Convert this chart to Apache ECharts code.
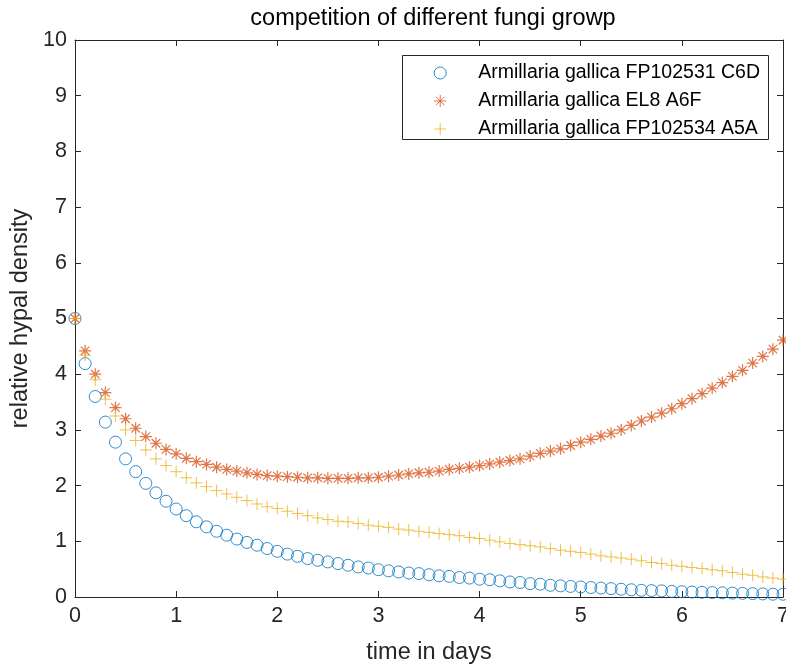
<!DOCTYPE html>
<html>
<head>
<meta charset="utf-8">
<script src="https://cdn.jsdelivr.net/npm/echarts@6/dist/echarts.min.js"></script>
<style>
    html, body { margin: 0; padding: 0; background: #fff; }
    #fungiChartBox { width: 786px; height: 666px; }
</style>
</head>
<body>
<div id="fungiChartBox"></div>
<script>
// time in days (one sample every 0.1 day)
var days = [0, 0.1, 0.2, 0.3, 0.4, 0.5, 0.6, 0.7, 0.8, 0.9,
            1.0, 1.1, 1.2, 1.3, 1.4, 1.5, 1.6, 1.7, 1.8, 1.9,
            2.0, 2.1, 2.2, 2.3, 2.4, 2.5, 2.6, 2.7, 2.8, 2.9,
            3.0, 3.1, 3.2, 3.3, 3.4, 3.5, 3.6, 3.7, 3.8, 3.9,
            4.0, 4.1, 4.2, 4.3, 4.4, 4.5, 4.6, 4.7, 4.8, 4.9,
            5.0, 5.1, 5.2, 5.3, 5.4, 5.5, 5.6, 5.7, 5.8, 5.9,
            6.0, 6.1, 6.2, 6.3, 6.4, 6.5, 6.6, 6.7, 6.8, 6.9,
            7.0];

// relative hypal density
var c6d = [5.00, 4.19, 3.60, 3.14, 2.78, 2.48, 2.25, 2.04, 1.87, 1.72,
           1.58, 1.46, 1.35, 1.26, 1.18, 1.11, 1.04, 0.98, 0.93, 0.87,
           0.82, 0.77, 0.73, 0.69, 0.66, 0.63, 0.60, 0.57, 0.54, 0.52,
           0.49, 0.47, 0.45, 0.43, 0.42, 0.40, 0.38, 0.37, 0.35, 0.34,
           0.32, 0.31, 0.29, 0.27, 0.26, 0.24, 0.23, 0.21, 0.20, 0.19,
           0.18, 0.17, 0.16, 0.15, 0.14, 0.13, 0.12, 0.115, 0.11, 0.10,
           0.095, 0.09, 0.085, 0.08, 0.075, 0.07, 0.065, 0.06, 0.055, 0.05,
           0.05];
var a6f = [5.00, 4.42, 4.00, 3.67, 3.40, 3.20, 3.03, 2.88, 2.76, 2.65,
           2.57, 2.49, 2.43, 2.38, 2.33, 2.29, 2.26, 2.23, 2.20, 2.18,
           2.17, 2.16, 2.15, 2.14, 2.14, 2.13, 2.13, 2.13, 2.14, 2.14,
           2.15, 2.17, 2.19, 2.21, 2.23, 2.24, 2.26, 2.29, 2.31, 2.33,
           2.36, 2.39, 2.42, 2.45, 2.48, 2.53, 2.58, 2.62, 2.66, 2.72,
           2.78, 2.83, 2.89, 2.94, 3.00, 3.08, 3.16, 3.23, 3.30, 3.38,
           3.47, 3.56, 3.65, 3.75, 3.85, 3.96, 4.07, 4.20, 4.32, 4.45,
           4.61];
var a5a = [5.00, 4.34, 3.90, 3.55, 3.25, 3.00, 2.81, 2.64, 2.48, 2.36,
           2.25, 2.14, 2.05, 1.98, 1.91, 1.85, 1.79, 1.73, 1.67, 1.62,
           1.59, 1.54, 1.50, 1.46, 1.42, 1.39, 1.36, 1.35, 1.32, 1.29,
           1.27, 1.25, 1.22, 1.20, 1.18, 1.16, 1.14, 1.12, 1.10, 1.07,
           1.05, 1.02, 0.99, 0.96, 0.94, 0.92, 0.90, 0.87, 0.84, 0.82,
           0.80, 0.77, 0.74, 0.72, 0.70, 0.68, 0.65, 0.62, 0.60, 0.57,
           0.55, 0.53, 0.51, 0.49, 0.47, 0.44, 0.41, 0.39, 0.36, 0.34,
           0.32];

var seriesNames = ['Armillaria gallica FP102531 C6D', 'Armillaria gallica EL8 A6F', 'Armillaria gallica FP102534 A5A'];
var xRange = [0, 7];
var yRange = [0, 10];

var chartDom = document.getElementById('fungiChartBox');
var myChart = echarts.init(chartDom);

var fontFam = 'Arial, "Liberation Sans", Helvetica, sans-serif';
var axisColor = '#262626';
var starPath = 'path://M6,0L6,12M0,6L12,6M1.76,1.76L10.24,10.24M10.24,1.76L1.76,10.24';
var plusPath = 'path://M6,0L6,12M0,6L12,6';

function pairs(vals) {
    return days.map(function (d, i) { return [d, vals[i]]; });
}

function boxAxis(pos, range, showLabel) {
    return {
        type: 'value',
        position: pos,
        min: range[0],
        max: range[1],
        interval: 1,
        axisLine: { show: true, onZero: false, lineStyle: { color: axisColor, width: 1 } },
        axisTick: { show: true, inside: true, length: 6, lineStyle: { color: axisColor, width: 1 } },
        axisLabel: { show: showLabel, fontSize: 21.5, color: axisColor, fontFamily: fontFam, margin: 8 },
        splitLine: { show: false }
    };
}

var xMain = boxAxis('bottom', xRange, true);
xMain.name = 'time in days';
xMain.nameLocation = 'middle';
xMain.nameGap = 44;
xMain.nameTextStyle = { fontSize: 23.5, color: axisColor, fontFamily: fontFam };

var yMain = boxAxis('left', yRange, true);
yMain.name = 'relative hypal density';
yMain.nameLocation = 'middle';
yMain.nameGap = 32;
yMain.nameTextStyle = { fontSize: 23.5, color: axisColor, fontFamily: fontFam };

function markStyle(color) {
    return { color: 'rgba(0,0,0,0)', borderColor: color, borderWidth: 1 };
}

var option = {
    animation: false,
    grid: { left: 75, right: 3, top: 40, bottom: 69, outerBoundsMode: 'none', containLabel: false },
    xAxis: [xMain, boxAxis('top', xRange, false)],
    yAxis: [yMain, boxAxis('right', yRange, false)],
    graphic: [
        {
            type: 'text',
            x: 433,
            y: 19,
            style: {
                text: 'competition of different fungi growp',
                fontSize: 23.5,
                fontFamily: fontFam,
                fill: '#000',
                align: 'center',
                verticalAlign: 'middle'
            }
        },
        {
            type: 'rect',
            shape: { x: 402.5, y: 55.5, width: 366, height: 84 },
            style: { fill: '#fff', stroke: axisColor, lineWidth: 1 },
            z: 1
        }
    ],
    legend: {
        orient: 'vertical',
        right: 26,
        top: 63,
        padding: 0,
        itemWidth: 66,
        itemHeight: 12,
        itemGap: 8,
        z: 5,
        itemStyle: { borderWidth: 1 },
        textStyle: { fontSize: 19.5, color: '#000', fontFamily: fontFam, lineHeight: 18 },
        data: seriesNames
    },
    series: [
        {
            name: seriesNames[0],
            type: 'scatter',
            symbol: 'circle',
            symbolSize: 12,
            itemStyle: markStyle('#0072BD'),
            data: pairs(c6d)
        },
        {
            name: seriesNames[1],
            type: 'scatter',
            symbol: starPath,
            symbolSize: 12,
            symbolKeepAspect: true,
            itemStyle: { color: 'rgba(0,0,0,0)', borderColor: '#D95319', borderWidth: 1.2 },
            data: pairs(a6f)
        },
        {
            name: seriesNames[2],
            type: 'scatter',
            symbol: plusPath,
            symbolSize: 12,
            symbolKeepAspect: true,
            itemStyle: markStyle('#EDB120'),
            data: pairs(a5a)
        }
    ]
};
myChart.setOption(option);
</script>
</body>
</html>
